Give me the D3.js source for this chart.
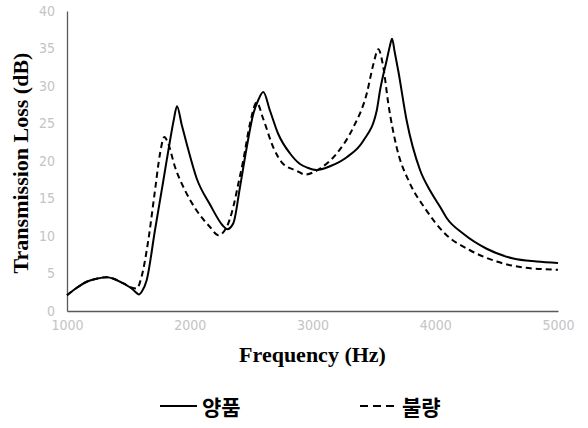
<!DOCTYPE html>
<html>
<head>
<meta charset="utf-8">
<script src="https://cdn.jsdelivr.net/npm/d3@7"></script>
<style>
  body { margin: 0; background: #fff; }
  svg { display: block; }
  .tick text { font-family: "Liberation Sans Narrow", "DejaVu Sans Condensed", sans-serif; fill: #c4c4c4; font-size: 14px; }
  .axis-title { font-family: "Liberation Serif", serif; font-weight: bold; font-size: 22px; fill: #000; }
  .legend text { font-family: "Noto Sans CJK KR", sans-serif; font-weight: bold; font-size: 21px; fill: #000; }
</style>
</head>
<body>
<svg width="588" height="428"></svg>
<script>
// good product (양품)
const goodFreq = [1000, 1080, 1160, 1240, 1323, 1380, 1432, 1480, 1527, 1560, 1585, 1610, 1649, 1717, 1785, 1839, 1870, 1896, 1935, 1975, 2056, 2165, 2274, 2305, 2355, 2409, 2464, 2518, 2560, 2599, 2654, 2721, 2817, 2898, 2960, 3034, 3143, 3279, 3414, 3523, 3550, 3604, 3630, 3648, 3670, 3699, 3767, 3876, 3960, 4039, 4093, 4229, 4419, 4636, 4826, 5000];
const goodTL =   [2.1, 3.1, 3.9, 4.3, 4.5, 4.3, 3.9, 3.5, 3.0, 2.5, 2.2, 2.6, 4.1, 10.8, 17.4, 22.7, 25.5, 27.3, 24.8, 22.3, 17.7, 14.2, 11.3, 10.9, 11.7, 16.5, 21.8, 26.3, 28.2, 29.2, 26.7, 23.6, 21.0, 19.6, 19.1, 18.8, 19.3, 20.5, 22.7, 26.7, 29.4, 33.4, 35.3, 36.3, 34.5, 32.0, 25.4, 18.8, 16.0, 13.9, 12.4, 10.3, 8.3, 7.0, 6.6, 6.4];

// defective product (불량)
const badFreq = [1000, 1080, 1160, 1240, 1323, 1380, 1432, 1480, 1530, 1568, 1608, 1662, 1717, 1758, 1793, 1825, 1880, 1961, 2056, 2165, 2233, 2301, 2355, 2396, 2436, 2491, 2545, 2599, 2681, 2762, 2871, 2939, 3061, 3197, 3333, 3442, 3496, 3536, 3577, 3618, 3686, 3794, 3916, 4080, 4283, 4501, 4718, 5000];
const badTL =   [2.1, 3.1, 3.9, 4.3, 4.5, 4.3, 3.9, 3.5, 3.1, 3.0, 4.6, 9.4, 16.1, 21.0, 23.2, 22.3, 19.2, 16.1, 13.4, 11.2, 10.1, 11.2, 13.9, 17.0, 20.1, 25.0, 27.8, 25.6, 21.8, 19.6, 18.7, 18.2, 19.0, 21.0, 24.5, 29.0, 32.9, 34.9, 32.5, 27.6, 21.8, 17.0, 13.7, 10.3, 8.1, 6.6, 5.8, 5.5];

const xTicks = [1000, 2000, 3000, 4000, 5000];
const yTicks = [0, 5, 10, 15, 20, 25, 30, 35, 40];
const seriesNames = ["양품", "불량"];

const margin = { top: 11, right: 30, bottom: 117, left: 67 },
      width = 588 - margin.left - margin.right,
      height = 428 - margin.top - margin.bottom;

const svg = d3.select("svg");
const g = svg.append("g")
  .attr("transform", `translate(${margin.left},${margin.top})`);

const x = d3.scaleLinear().domain([1000, 5000]).range([0, width]);
const y = d3.scaleLinear().domain([0, 40]).range([height, 0]);

const xAxis = g.append("g")
  .attr("transform", `translate(0,${height})`)
  .call(d3.axisBottom(x).tickValues(xTicks).tickSize(0).tickPadding(9).tickFormat(d3.format("d")));
xAxis.select(".domain").attr("stroke", "#595959").attr("stroke-width", 1.3);

const yAxis = g.append("g")
  .call(d3.axisLeft(y).tickValues(yTicks).tickSize(0).tickPadding(12));
yAxis.select(".domain").attr("stroke", "#595959").attr("stroke-width", 1.3);

const line = d3.line()
  .x(d => x(d[0]))
  .y(d => y(d[1]))
  .curve(d3.curveMonotoneX);

g.append("path")
  .datum(d3.zip(goodFreq, goodTL))
  .attr("fill", "none")
  .attr("stroke", "#000")
  .attr("stroke-width", 2)
  .attr("d", line);

g.append("path")
  .datum(d3.zip(badFreq, badTL))
  .attr("fill", "none")
  .attr("stroke", "#000")
  .attr("stroke-width", 2)
  .attr("stroke-dasharray", "6,4")
  .attr("d", line);

svg.append("text")
  .attr("class", "axis-title")
  .attr("x", margin.left + width / 2)
  .attr("y", 362)
  .attr("text-anchor", "middle")
  .text("Frequency (Hz)");

svg.append("text")
  .attr("class", "axis-title")
  .attr("transform", `translate(28,${margin.top + height / 2 + 2}) rotate(-90)`)
  .attr("text-anchor", "middle")
  .text("Transmission Loss (dB)");

const legend = svg.append("g").attr("class", "legend");
const legendX = [160, 360];
seriesNames.forEach((name, i) => {
  legend.append("line")
    .attr("x1", legendX[i]).attr("x2", legendX[i] + 37)
    .attr("y1", 406).attr("y2", 406)
    .attr("stroke", "#000")
    .attr("stroke-width", 2)
    .attr("stroke-dasharray", i === 1 ? "8,5" : null);
  legend.append("text")
    .attr("x", legendX[i] + 42)
    .attr("y", 415)
    .text(name);
});
</script>
</body>
</html>
